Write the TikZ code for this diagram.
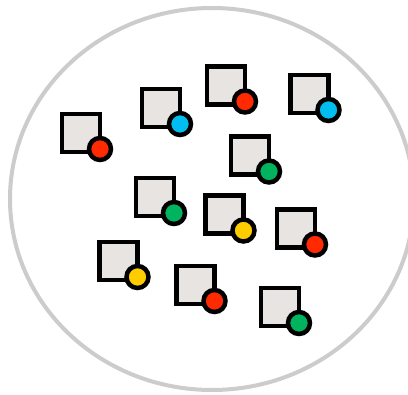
\documentclass[tikz,border=0pt]{standalone}
\definecolor{boxfill}{HTML}{E8E4E1}
\definecolor{rimgray}{HTML}{CCCCCC}
\definecolor{dotred}{HTML}{FF2A00}
\definecolor{dotblue}{HTML}{00BEF2}
\definecolor{dotgreen}{HTML}{00B35E}
\definecolor{dotyellow}{HTML}{FFCC00}
\tikzset{
  sqbox/.style={draw=black, fill=boxfill, line width=4.5pt, minimum size=38pt, inner sep=0pt, outer sep=0pt},
  dotc/.style={draw=black, fill=#1, line width=4.5pt, circle, minimum size=22pt, inner sep=0pt, outer sep=0pt},
  rimline/.style={draw=rimgray, line width=4pt},
}
\newcommand{\chipitem}[3]{%
  \node[sqbox] (s#1) at (#2) {};
  \node[dotc=#3] (d#1) at ([yshift=3pt]s#1.south east) {};
}
\begin{document}
\begin{tikzpicture}[x=1pt,y=-1pt]
\useasboundingbox (0,0) rectangle (408,395);
\clip (0,0) rectangle (408,395);
\fill[white] (0,0) rectangle (408,395);
\coordinate (rimc) at (212,199);
\draw[rimline] (rimc) ellipse [x radius=202, y radius=191];
\chipitem{1}{81,133}{dotred}
\chipitem{2}{161,108}{dotblue}
\chipitem{3}{226,85.5}{dotred}
\chipitem{4}{309.5,94}{dotblue}
\chipitem{5}{250,155.5}{dotgreen}
\chipitem{6}{155,197}{dotgreen}
\chipitem{7}{224.5,214.5}{dotyellow}
\chipitem{8}{296,228.5}{dotred}
\chipitem{9}{118.5,261}{dotyellow}
\chipitem{10}{195.5,285}{dotred}
\chipitem{11}{280,307}{dotgreen}
\end{tikzpicture}
\end{document}
